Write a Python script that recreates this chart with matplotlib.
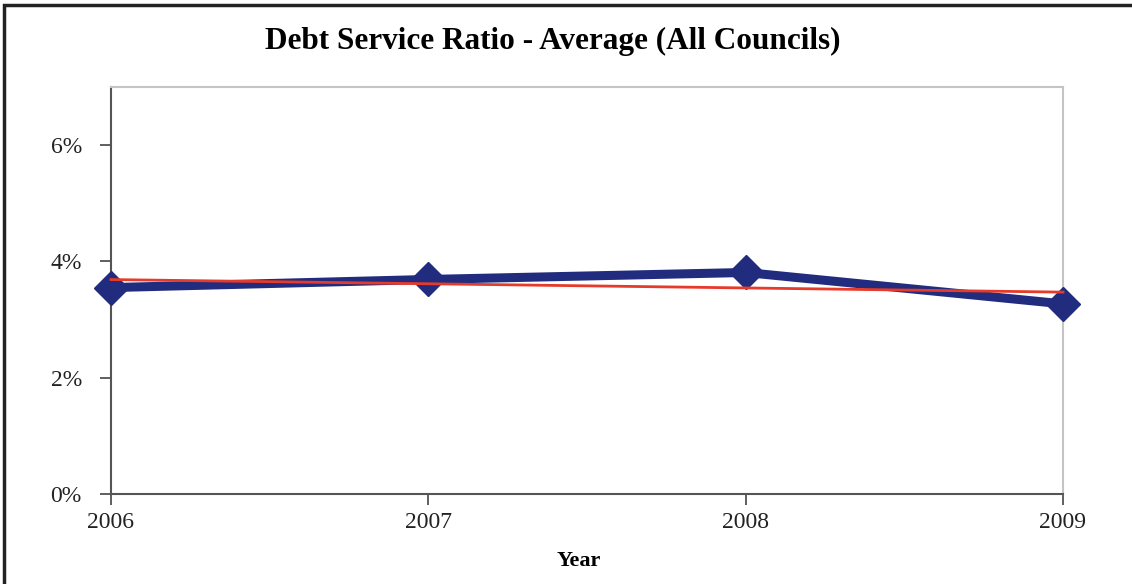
import numpy as np
import matplotlib.pyplot as plt
from matplotlib.patches import Rectangle

years = [2006, 2007, 2008, 2009]
ratio = [3.55, 3.69, 3.81, 3.27]  # debt service ratio, %
yticks = [0, 2, 4, 6]

plt.rcParams['font.family'] = ['Liberation Serif', 'DejaVu Serif']

fig = plt.figure(figsize=(11.32, 5.84), dpi=100)
ax = fig.add_axes([111 / 1132, 1 - 494 / 584, (1063 - 111) / 1132, (494 - 87) / 584])

x = np.arange(len(years))
ax.plot(x, ratio, color='#212C7E', lw=6.5, marker='D', ms=17,
        solid_joinstyle='miter', clip_on=False, zorder=3)

# linear trend line
k, b = np.polyfit(x, ratio, 1)
ax.plot(x, k * x + b, color='#E63A2B', lw=2, clip_on=False, zorder=4)

ax.set_xlim(0, len(years) - 1)
ax.set_ylim(0, 7)
ax.set_xticks(x)
ax.set_xticklabels([str(y) for y in years])
ax.set_yticks(yticks)
ax.set_yticklabels([f'{v}%' for v in yticks])
ax.tick_params(axis='both', labelsize=17, colors='#222222', length=8, width=1.2, direction='out')
ax.tick_params(axis='y', pad=13, color='#444444')
ax.tick_params(axis='x', pad=5, color='#444444')

for s in ['left', 'bottom']:
    ax.spines[s].set_color('#555555')
    ax.spines[s].set_linewidth(1.5)
for s in ['top', 'right']:
    ax.spines[s].set_color('#c4c4c4')
    ax.spines[s].set_linewidth(1.5)

fig.text(579 / 1132, 1 - 561 / 584, 'Year', ha='center', va='center',
         fontsize=16, fontweight='bold')
fig.text(553 / 1132, 1 - 41 / 584, 'Debt Service Ratio - Average (All Councils)',
         ha='center', va='center', fontsize=22.5, fontweight='bold')

# outer chart frame
fig.patches.append(Rectangle((3.5 / 1132, -0.1), 1.2, 1 - 5 / 584 + 0.1, transform=fig.transFigure,
                             fill=False, edgecolor='#222222', lw=2.5))

fig.savefig('out.png', dpi=100)
